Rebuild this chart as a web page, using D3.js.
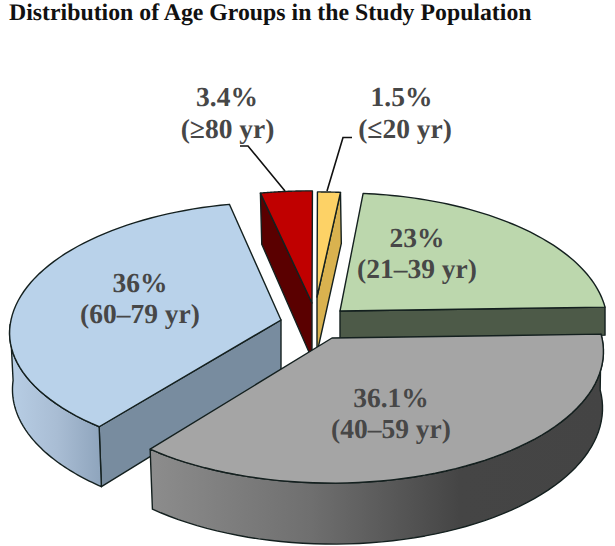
<!DOCTYPE html>
<html>
<head>
<meta charset="utf-8">
<script src="https://d3js.org/d3.v7.min.js"></script>
<style>
  html, body { margin: 0; background: #fff; }
  text { font-family: "Liberation Serif", serif; font-weight: bold; text-rendering: geometricPrecision; }
</style>
</head>
<body>
<div id="my_dataviz"></div>
<script>
// data
var groups = ["21–39 yr", "40–59 yr", "60–79 yr", "≥80 yr", "≤20 yr"];
var shares = [23, 36.1, 36, 3.4, 1.5];
var shareLabels = ["23%", "36.1%", "36%", "3.4%", "1.5%"];

// colours, same order as groups
var topColor = ["#bcd7ad", "#a5a5a5", "#b9d2ea", "#c00000", "#fdd266"];
var cutColor = ["#4d5a48", "#6a6a6a", "#788c9f", "#5a0000", "#d9b24f"];

// where each exploded wedge has its apex, and per wedge tweaks of the rim
var apex = [[340, 311], [332, 338], [281, 320], [312, 303], [317, 297]];
var stretchX = [0.985, 1, 1, 1, 1];
var stretchBack = [1, 1, 1, 0.95, 0.89];
var stretchFront = [1, 1, 0.96, 1, 1];
// label anchors: x, y of first line then x, y of second line
var labelPos = [[417, 247, 417, 278], [391, 407, 391, 438], [140, 292, 140, 323], [227, 106, 227.5, 138], [401.5, 106, 405, 138]];

var width = 615, height = 546;
var R = 270, Q = 130.2, k = 0.1027, depth = 56, depthTilt = 5, shrink = 0.993;
var toRad = Math.PI / 180;

var svg = d3.select("#my_dataviz").append("svg")
  .attr("width", width).attr("height", height)
  .style("display", "block");

// side gradients
var defs = svg.append("defs");
function gradient(id, x1, x2, stops) {
  var g = defs.append("linearGradient").attr("id", id)
    .attr("gradientUnits", "userSpaceOnUse")
    .attr("x1", x1).attr("x2", x2).attr("y1", 0).attr("y2", 0);
  stops.forEach(function(s) {
    g.append("stop").attr("offset", s[0]).attr("stop-color", s[1]);
  });
  return "url(#" + id + ")";
}
var blueSide = gradient("blueSide", 12, 102, [[0, "#b7cde4"], [0.5, "#a9bdd4"], [1, "#8ea4bc"]]);
var graySide = gradient("graySide", 153, 604, [[0, "#8c8c8c"], [0.35, "#6f6f6f"], [0.68, "#454545"], [1, "#444444"]]);

// the pie layout gives the angles, the rest is just a perspective projection of the disc
var arcs = d3.pie().sort(null).value(function(d) { return d; })
  .startAngle(5.5 * toRad).endAngle((5.5 + 360) * toRad)(shares);

function project(i, a, bottom) {
  var s = Math.sin(a), c = Math.cos(a), w = 1 + k * c;
  var r = (bottom ? R * shrink : R) * stretchX[i];
  var x = apex[i][0] + r * s / w;
  var y = apex[i][1] - (c > 0 ? stretchBack[i] : stretchFront[i]) * Q * c / w;
  if (bottom) {
    x += 1;
    y += depth - depthTilt * c;
  }
  return [x, y];
}

function rim(i, a0, a1, bottom) {
  return d3.range(0, 61).map(function(n) {
    return project(i, a0 + (a1 - a0) * n / 60, bottom);
  });
}

var line = d3.line();
var edge = "#14201f";

function poly(pts, fill) {
  svg.append("path")
    .attr("d", line(pts) + "Z")
    .attr("fill", fill)
    .attr("stroke", edge)
    .attr("stroke-width", 1.4)
    .attr("stroke-linejoin", "round");
}

function topFace(i) {
  poly([apex[i]].concat(rim(i, arcs[i].startAngle, arcs[i].endAngle, false)), topColor[i]);
}

// cut face seen at the start or end angle of a wedge
function cutFace(i, a, d) {
  var p = project(i, a, false);
  var q = d ? [p[0], p[1] + d] : project(i, a, true);
  poly([apex[i], p, q, [apex[i][0], apex[i][1] + (d || depth)]], cutColor[i]);
}

// outer wall between two angles
function wall(i, a0, a1, fill) {
  poly(rim(i, a0, a1, false).concat(rim(i, a0, a1, true).reverse()), fill);
}

// back to front: red, yellow, green, blue, grey
cutFace(3, arcs[3].startAngle);
topFace(3);
cutFace(4, arcs[4].endAngle);
topFace(4);
// green face is hidden by the grey wedge below this, keep it short so it does not poke out
cutFace(0, arcs[0].endAngle, 28);
topFace(0);
cutFace(2, arcs[2].startAngle);
wall(2, arcs[2].startAngle, 268 * toRad, blueSide);
topFace(2);
wall(1, arcs[1].startAngle, arcs[1].endAngle, graySide);
topFace(1);

// leader lines of the two thin wedges
var leaders = [[[285, 191], [248, 146], [240, 146]], [[327, 191], [343, 137.5], [352, 137.5]]];
svg.selectAll(".leader").data(leaders).enter().append("path")
  .attr("class", "leader")
  .attr("d", line)
  .attr("fill", "none")
  .attr("stroke", "#111")
  .attr("stroke-width", 1.6);

// title
svg.append("text")
  .attr("x", 9).attr("y", 20)
  .style("font-size", "23.8px")
  .attr("fill", "#111")
  .text("Distribution of Age Groups in the Study Population");

// labels
groups.forEach(function(g, i) {
  var t = svg.append("g").attr("text-anchor", "middle")
    .attr("fill", "#474747").style("font-size", "27.5px");
  t.append("text").attr("x", labelPos[i][0]).attr("y", labelPos[i][1]).text(shareLabels[i]);
  t.append("text").attr("x", labelPos[i][2]).attr("y", labelPos[i][3]).text("(" + g + ")");
});
</script>
</body>
</html>
